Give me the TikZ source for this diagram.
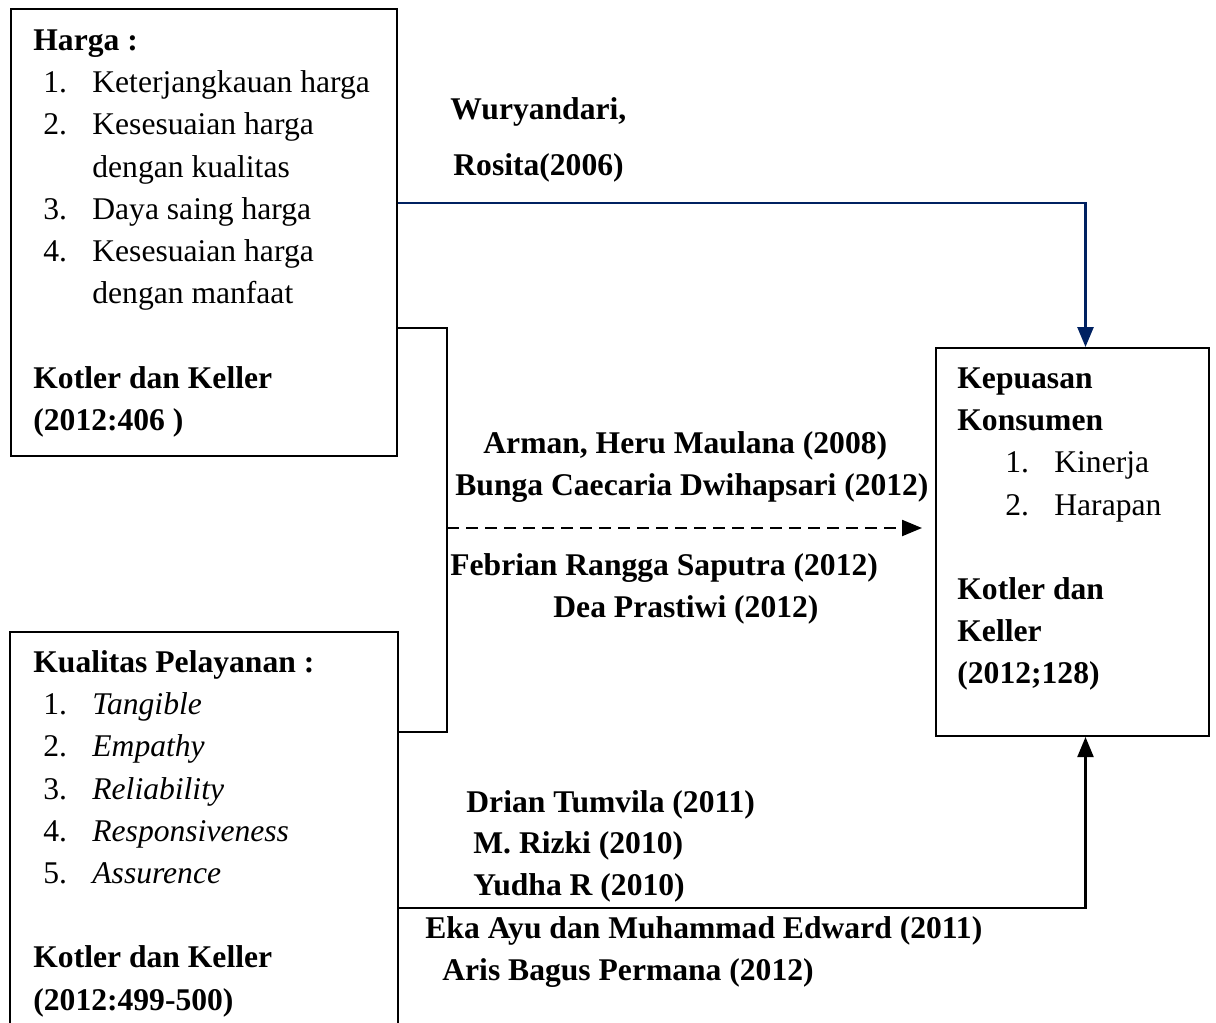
\documentclass[tikz,border=0pt]{standalone}
\usepackage{fontspec}
\setmainfont{Liberation Serif}
\usetikzlibrary{arrows.meta,positioning}
\begin{document}
\begin{tikzpicture}[x=0.5pt, y=-0.5pt,
    box/.style={draw, line width=1pt, inner sep=0pt, anchor=north west},
    txt/.style={align=left, inner sep=0pt, anchor=north west, font=\fontsize{15.8}{21.1}\selectfont},
    cite/.style={inner sep=0pt, anchor=base west, font=\fontsize{15.8}{21.1}\selectfont\bfseries},
    link/.style={line width=1.1pt, -{Triangle[length=10pt,width=8pt]}}]
    \definecolor{my-navy}{rgb}{0,0.13,0.38}
    \def\itm#1#2#3{\hspace*{#1}\makebox[24.5pt][l]{#2}#3}
    \useasboundingbox (0,0) rectangle (1216,1023);
    % the three boxes
    \node[box, minimum width=193pt, minimum height=223.5pt] (harga) at (10,8) {};
    \node[box, draw=none, minimum width=193pt, minimum height=195.5pt] (kualitas) at (10,632) {};
    \draw[line width=1pt] (kualitas.south west) |- (kualitas.north east) -- (kualitas.south east);
    \node[box, minimum width=136.5pt, minimum height=194pt] (kepuasan) at (935,347) {};
    % box texts
    \node[txt] (hargatxt) at ([shift={(23,12.6)}]harga.north west) {\strut\textbf{Harga :}\\
      \itm{5pt}{1.}{Keterjangkauan harga}\\
      \itm{5pt}{2.}{Kesesuaian harga}\\
      \hspace*{29.5pt}dengan kualitas\\
      \itm{5pt}{3.}{Daya saing harga}\\
      \itm{5pt}{4.}{Kesesuaian harga}\\
      \hspace*{29.5pt}dengan manfaat\\[21.1pt]
      \textbf{Kotler dan Keller}\\
      \textbf{(2012:406 )}};
    \node[txt] (kualitastxt) at ([shift={(23,10.6)}]kualitas.north west) {\strut\textbf{Kualitas Pelayanan :}\\
      \itm{5pt}{1.}{\textit{Tangible}}\\
      \itm{5pt}{2.}{\textit{Empathy}}\\
      \itm{5pt}{3.}{\textit{Reliability}}\\
      \itm{5pt}{4.}{\textit{Responsiveness}}\\
      \itm{5pt}{5.}{\textit{Assurence}}\\[21.1pt]
      \textbf{Kotler dan Keller}\\
      \textbf{(2012:499-500)}};
    \node[txt] (kepuasantxt) at ([shift={(22,11.6)}]kepuasan.north west) {\strut\textbf{Kepuasan}\\
      \textbf{Konsumen}\\
      \itm{24pt}{1.}{Kinerja}\\
      \itm{24pt}{2.}{Harapan}\\[21.1pt]
      \textbf{Kotler dan}\\
      \textbf{Keller}\\
      \textbf{(2012;128)}};
    % connectors
    \coordinate (split) at (447,528);
    \draw[link, my-navy, line width=1.3pt] ([shift={(0,195)}]harga.north east) -| ([shift={(13,0)}]kepuasan.north);
    \draw[line width=1.1pt] ([shift={(0,320)}]harga.north east) -| (split) |- ([shift={(0,100)}]kualitas.north east);
    \draw[link, dash pattern=on 6pt off 3.5pt, shorten >=6.5pt] (split) -- (split -| kepuasan.west);
    \draw[link] ([shift={(0,276)}]kualitas.north east) -| ([shift={(13,0)}]kepuasan.south);
    % sources
    \node[cite] (wury) at (450,119) {Wuryandari,};
    \node[cite] (rosita) at (453,175) {Rosita(2006)};
    \node[cite] (arman) at (483,453) {Arman, Heru Maulana (2008)};
    \node[cite] (bunga) at (455,495) {Bunga Caecaria Dwihapsari (2012)};
    \node[cite] (febrian) at (450,575) {Febrian Rangga Saputra (2012)};
    \node[cite] (dea) at (553,617) {Dea Prastiwi (2012)};
    \node[cite] (drian) at (466,812) {Drian Tumvila (2011)};
    \node[cite] (rizki) at (473,853) {M. Rizki (2010)};
    \node[cite] (yudha) at (473,895) {Yudha R (2010)};
    \node[cite] (eka) at (425,938) {Eka Ayu dan Muhammad Edward (2011)};
    \node[cite] (aris) at (442,980) {Aris Bagus Permana (2012)};
\end{tikzpicture}
\end{document}
